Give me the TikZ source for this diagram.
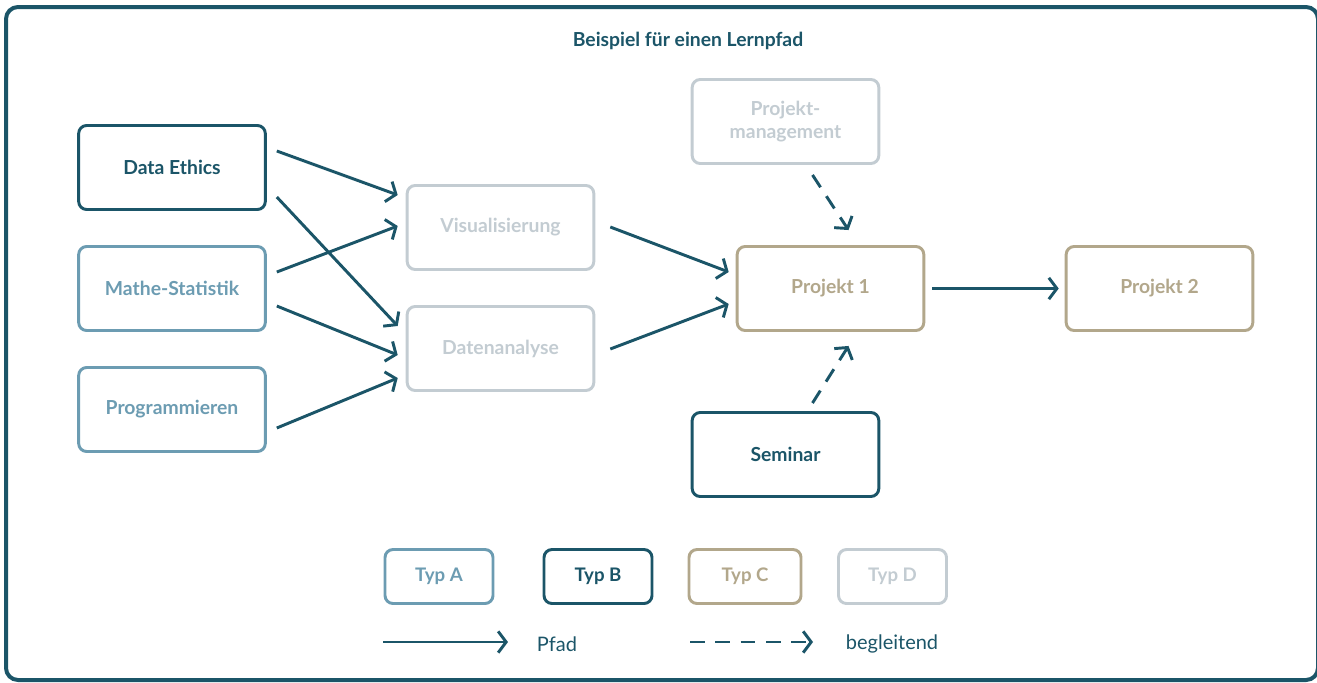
\documentclass[tikz,border=0pt]{standalone}
\usepackage{fontspec}
\setmainfont{Lato}
\usetikzlibrary{arrows.meta,positioning}
\definecolor{cB}{HTML}{1B5568}
\definecolor{cA}{HTML}{6C9CB2}
\definecolor{cC}{HTML}{B2A78B}
\definecolor{cD}{HTML}{C3CCD2}
\tikzset{
  >={Straight Barb[length=6pt,width=16pt]},
  box/.style ={rounded corners=6pt,line width=2.2pt,fill=white,align=center,inner sep=0pt,
               minimum width=140pt,minimum height=63pt,font=\fontsize{14.5}{17}\selectfont\bfseries},
  abox/.style={box,draw=cA,text=cA}, bbox/.style={box,draw=cB,text=cB},
  cbox/.style={box,draw=cC,text=cC}, dbox/.style={box,draw=cD,text=cD},
  leg/.style ={minimum width=81pt,minimum height=40.5pt,font=\fontsize{14}{16}\selectfont\bfseries},
  ar/.style  ={->,line width=2.2pt,cB},
  dar/.style ={ar,dash pattern=on 11pt off 8pt},
  lbl/.style ={font=\fontsize{15}{17}\selectfont,text=cB},
}

\begin{document}
\begin{tikzpicture}[x=0.75pt,y=-0.75pt]
\useasboundingbox (0,0) rectangle (1317,682);
\draw[cB,line width=3pt,rounded corners=9pt] (6,7) rectangle (1318,680);
\node[font=\fontsize{14.5}{17}\selectfont\bfseries,text=cB] (title) at (688,41) {Beispiel für einen Lernpfad};
% Typ A / B: Grundlagen
\node[bbox] (de)  at (172,167.5)   {Data Ethics};
\node[abox] (ms)  at (172,288.5)   {Mathe-Statistik};
\node[abox] (pr)  at (172,409.5)   {Programmieren};
% Typ D
\node[dbox] (vis) at (500.5,227.5) {Visualisierung};
\node[dbox] (dat) at (500.5,348.5) {Datenanalyse};
\node[dbox] (pm)  at (785.5,121.5) {Projekt-\\management};
% Projekte
\node[cbox] (p1)  at (830.5,288.5) {Projekt 1};
\node[cbox] (p2)  at (1159.5,288.5){Projekt 2};
\node[bbox] (sem) at (785.5,454.5) {Seminar};
% Pfade
\draw[ar] ([shift={(10,-16.5)}]de.east) -- ([shift={(-8,-32.5)}]vis.west);
\draw[ar] ([shift={(10,29.5)}]de.east)  -- ([shift={(-8,-22.5)}]dat.west);
\draw[ar] ([shift={(10,-16.5)}]ms.east) -- ([shift={(-8,-1.5)}]vis.west);
\draw[ar] ([shift={(10,17.5)}]ms.east)  -- ([shift={(-8,6.5)}]dat.west);
\draw[ar] ([shift={(10,18.5)}]pr.east)  -- ([shift={(-8,29.5)}]dat.west);
\draw[ar] ([shift={(15,-0.5)}]vis.east) -- ([shift={(-7,-16.5)}]p1.west);
\draw[ar] ([shift={(15,0.5)}]dat.east)  -- ([shift={(-7,15.5)}]p1.west);
\draw[ar] ([shift={(7,0)}]p1.east)      -- ([shift={(-6,0)}]p2.west);
\draw[dar] ([shift={(27,10)}]pm.south)  -- ([shift={(18,-15)}]p1.north);
\draw[dar] ([shift={(27,-8)}]sem.north) -- ([shift={(18,14)}]p1.south);
% Legende
\node[abox,leg] (ta) at (439,576.5) {Typ A};
\node[bbox,leg] (tb) at (598,576.5) {Typ B};
\node[cbox,leg,minimum width=84pt] (tc) at (745,576.5) {Typ C};
\node[dbox,leg] (td) at (892.5,576.5) {Typ D};
\coordinate (pfa) at (383,642);
\coordinate (pfb) at (508,642);
\coordinate (bga) at (690,642);
\coordinate (bgb) at (813,642);
\draw[ar]  (pfa) -- (pfb);
\draw[dar] (bga) -- (bgb);
\node[lbl] (pfad) at (557,644) {Pfad};
\node[lbl] (begl) at (892,644) {begleitend};
\end{tikzpicture}
\end{document}
